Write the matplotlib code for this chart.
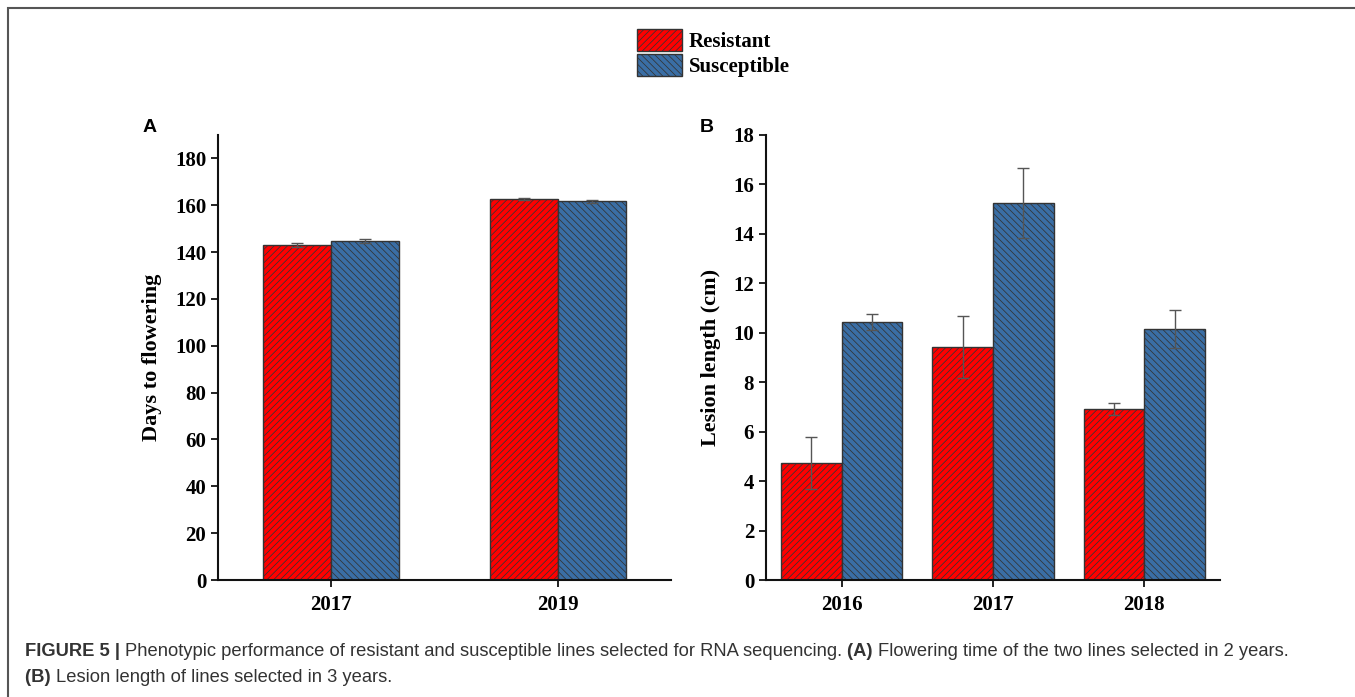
import matplotlib
matplotlib.use("Agg")
import matplotlib.pyplot as plt
import numpy as np
from matplotlib.patches import Patch, Rectangle

# Panel A: days to flowering
years_a = ["2017", "2019"]
flower_res = [142.9, 162.6]
flower_res_err = [0.8, 0.5]
flower_sus = [144.8, 161.7]
flower_sus_err = [1.0, 0.6]

# Panel B: lesion length (cm)
years_b = ["2016", "2017", "2018"]
lesion_res = [4.72, 9.43, 6.93]
lesion_res_err = [1.05, 1.25, 0.24]
lesion_sus = [10.44, 15.25, 10.17]
lesion_sus_err = [0.33, 1.40, 0.77]

series_names = ["Resistant", "Susceptible"]

RED = "#FF0000"
BLUE = "#3A6EA5"
EDGE = "#333333"
SERIF = ["Liberation Serif", "DejaVu Serif"]
SANS = ["Liberation Sans", "DejaVu Sans"]
HATCH_RES = "/////"
HATCH_SUS = "\\\\\\\\\\"

plt.rcParams["hatch.linewidth"] = 0.55
plt.rcParams["hatch.color"] = "black"

W, H = 1355, 697
fig = plt.figure(figsize=(W / 100, H / 100), dpi=100)

# outer frame of the figure
fig.patches.append(Rectangle((8 / W, -0.05), 1.2, 1 - 8 / H + 0.05,
                             transform=fig.transFigure, fill=False,
                             edgecolor="#555555", linewidth=1.5))


def make_axes(rect):
    ax = fig.add_axes(rect)
    for s in ("top", "right"):
        ax.spines[s].set_visible(False)
    for s in ("left", "bottom"):
        ax.spines[s].set_linewidth(1.5)
        ax.spines[s].set_color("#111111")
    ax.tick_params(direction="out", length=5, width=1.3, color="#111111")
    return ax


def draw_bars(ax, cats, res, res_err, sus, sus_err, width):
    x = np.arange(len(cats))
    ax.bar(x - width / 2, res, width, color=RED, edgecolor=EDGE,
           linewidth=1.0, hatch=HATCH_RES)
    ax.bar(x + width / 2, sus, width, color=BLUE, edgecolor=EDGE,
           linewidth=1.0, hatch=HATCH_SUS)
    ax.errorbar(x - width / 2, res, yerr=res_err, fmt="none",
                ecolor="#555555", elinewidth=1.0, capsize=4, capthick=1.0)
    ax.errorbar(x + width / 2, sus, yerr=sus_err, fmt="none",
                ecolor="#555555", elinewidth=1.0, capsize=4, capthick=1.0)
    ax.set_xticks(x)
    ax.set_xticklabels(cats)
    ax.set_xlim(-0.5, len(cats) - 0.5)
    for lab in ax.get_xticklabels() + ax.get_yticklabels():
        lab.set_fontfamily(SERIF)
        lab.set_fontweight("bold")
        lab.set_fontsize(15)


fy = (H - 580) / H
fh = 445 / H

axA = make_axes([218 / W, fy, 453 / W, fh])
draw_bars(axA, years_a, flower_res, flower_res_err, flower_sus, flower_sus_err, 0.3)
axA.set_ylim(0, 190)
axA.set_yticks(np.arange(0, 181, 20))
axA.set_ylabel("Days to flowering", family=SERIF, fontweight="bold",
               fontsize=16, labelpad=9)

axB = make_axes([766 / W, fy, 454 / W, fh])
draw_bars(axB, years_b, lesion_res, lesion_res_err, lesion_sus, lesion_sus_err, 0.4)
axB.set_ylim(0, 18)
axB.set_yticks(np.arange(0, 19, 2))
axB.set_ylabel("Lesion length (cm)", family=SERIF, fontweight="bold",
               fontsize=16, labelpad=9)

for ax in (axA, axB):
    ax.tick_params(axis="x", pad=6)

fig.text(150 / W, 1 - 127 / H, "A", family=SANS, fontweight="bold",
         fontsize=14, ha="center", va="center")
fig.text(707 / W, 1 - 127 / H, "B", family=SANS, fontweight="bold",
         fontsize=14, ha="center", va="center")

handles = [Patch(facecolor=RED, edgecolor=EDGE, hatch=HATCH_RES),
           Patch(facecolor=BLUE, edgecolor=EDGE, hatch=HATCH_SUS)]
fig.legend(handles, series_names, loc="upper left",
           bbox_to_anchor=(622 / W, 1 - 14 / H), frameon=False,
           prop={"family": SERIF, "weight": "bold", "size": 15},
           handlelength=2.2, handleheight=1.25, handletextpad=0.3,
           labelspacing=0.12, borderpad=0.2)

# caption, built from consecutive bold / regular runs
cap_color = "#333333"
cap_size = 13.2
renderer = fig.canvas.get_renderer()


def caption_line(x_px, y_px, runs):
    x = x_px
    for text, bold in runs:
        t = fig.text(x / W, 1 - y_px / H, text, family=SANS,
                     fontweight="bold" if bold else "normal",
                     fontsize=cap_size, color=cap_color, va="center")
        bb = t.get_window_extent(renderer=renderer)
        x += bb.width


caption_line(25, 652, [("FIGURE 5 | ", True),
                       ("Phenotypic performance of resistant and susceptible lines "
                        "selected for RNA sequencing. ", False),
                       ("(A) ", True),
                       ("Flowering time of the two lines selected in 2 years.", False)])
caption_line(25, 677, [("(B) ", True),
                       ("Lesion length of lines selected in 3 years.", False)])

fig.savefig("out.png", dpi=100)
